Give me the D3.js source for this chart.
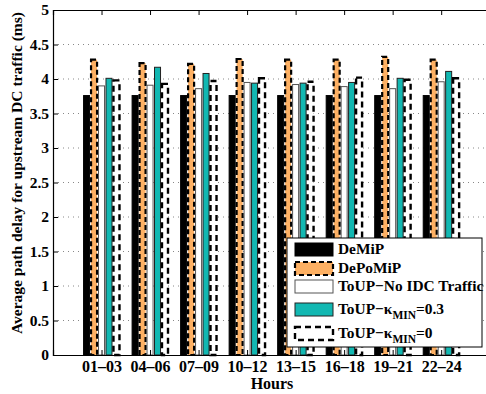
<!DOCTYPE html>
<html>
<head>
<meta charset="utf-8">
<script src="https://cdn.jsdelivr.net/npm/d3@7"></script>
<style>
body { margin: 0; background: #fff; }
text { font-family: "Liberation Serif", "Times New Roman", serif; font-weight: bold; }
</style>
</head>
<body>
<svg id="chart" width="486" height="394"></svg>
<script>
// data
const hours = ['01\u201303', '04\u201306', '07\u201309', '10\u201312', '13\u201315', '16\u201318', '19\u201321', '22\u201324'];
const demip = [3.76, 3.76, 3.76, 3.76, 3.76, 3.76, 3.76, 3.76];
const depomip = [4.28, 4.23, 4.22, 4.29, 4.28, 4.28, 4.32, 4.28];
const toupNoIdc = [3.90, 3.91, 3.86, 3.95, 3.92, 3.89, 3.86, 3.96];
const toupK03 = [4.01, 4.17, 4.08, 3.94, 3.94, 3.95, 4.01, 4.11];
const toupK0 = [3.98, 3.93, 3.97, 4.01, 3.96, 4.02, 3.99, 4.01];
const yTicks = [0, 0.5, 1, 1.5, 2, 2.5, 3, 3.5, 4, 4.5, 5];

const series = [
  {name: 'DeMiP', values: demip, fill: '#000', stroke: '#000', sw: 1, dash: null},
  {name: 'DePoMiP', values: depomip, fill: '#fdb063', stroke: '#000', sw: 2.2, dash: '5,3'},
  {name: 'ToUP\u2212No IDC Traffic', values: toupNoIdc, fill: '#fff', stroke: '#555', sw: 1, dash: null},
  {name: 'ToUP\u2212\u03ba', sub: 'MIN', tail: '=0.3', values: toupK03, fill: '#12b8b2', stroke: '#222', sw: 1, dash: null},
  {name: 'ToUP\u2212\u03ba', sub: 'MIN', tail: '=0', values: toupK0, fill: '#fff', stroke: '#000', sw: 2.4, dash: '6,4'}
];

const svg = d3.select('#chart');
const margin = {top: 10, left: 53, bottom: 39};
const plotRight = 489.7;  // right frame falls just outside the picture
const innerH = 394 - margin.top - margin.bottom;

const x = d3.scaleLinear().domain([0, 9]).range([margin.left, plotRight]);
const y = d3.scaleLinear().domain([0, 5]).range([margin.top + innerH, margin.top]);

// grid
svg.append('g').selectAll('line').data(yTicks.slice(1, -1)).enter().append('line')
  .attr('x1', margin.left).attr('x2', plotRight)
  .attr('y1', d => y(d)).attr('y2', d => y(d))
  .attr('stroke', '#888').attr('stroke-width', 1).attr('stroke-dasharray', '1,4');

// bars
const pitch = 0.154, bw = 0.124;
series.forEach((s, j) => {
  svg.append('g').selectAll('rect').data(s.values).enter().append('rect')
    .attr('x', (d, i) => x(i + 1 + (j - 2) * pitch - bw / 2))
    .attr('width', x(bw) - x(0))
    .attr('y', d => y(d))
    .attr('height', d => y(0) - y(d))
    .attr('fill', s.fill)
    .attr('stroke', s.stroke)
    .attr('stroke-width', s.sw)
    .attr('stroke-dasharray', s.dash);
});

// axes
const xAxis = d3.axisBottom(x).tickValues(d3.range(1, 9)).tickFormat((d, i) => hours[i]).tickSize(-5).tickPadding(9);
const xg = svg.append('g').attr('transform', `translate(0,${y(0)})`).call(xAxis);
xg.selectAll('text').attr('font-size', 16).attr('fill', '#000').attr('dy', '0.5em');
const xTop = d3.axisTop(x).tickValues(d3.range(1, 9)).tickFormat('').tickSize(-5);
svg.append('g').attr('transform', `translate(0,${y(5)})`).call(xTop);

const yAxis = d3.axisLeft(y).tickValues(yTicks).tickFormat(d3.format('')).tickSize(-5).tickPadding(4);
const yg = svg.append('g').attr('transform', `translate(${margin.left},0)`).call(yAxis);
yg.selectAll('text').attr('font-size', 15.5).attr('fill', '#000');
svg.selectAll('.domain').attr('stroke', '#000').attr('stroke-width', 1.2);
svg.selectAll('.tick line').attr('stroke', '#000');

svg.append('text')
  .attr('x', 272).attr('y', 389)
  .attr('text-anchor', 'middle').attr('font-size', 16)
  .text('Hours');

svg.append('text')
  .attr('transform', 'translate(22,173) rotate(-90)')
  .attr('text-anchor', 'middle').attr('font-size', 15.5)
  .attr('textLength', 322).attr('lengthAdjust', 'spacing')
  .text('Average path delay for upstream DC traffic (ms)');

// legend
const lg = svg.append('g').attr('transform', 'translate(287,238)');
lg.append('rect').attr('width', 195).attr('height', 109)
  .attr('fill', '#fff').attr('stroke', '#000').attr('stroke-width', 1);
const rowY = [11, 30, 48, 71, 95];
series.forEach((s, j) => {
  lg.append('rect')
    .attr('x', 8).attr('y', rowY[j] - 6).attr('width', 38).attr('height', 13)
    .attr('fill', s.fill).attr('stroke', s.stroke).attr('stroke-width', s.sw)
    .attr('stroke-dasharray', s.dash);
  const t = lg.append('text').attr('x', 51).attr('y', rowY[j] + 5).attr('font-size', 15.4);
  t.append('tspan').text(s.name);
  if (s.sub) {
    t.append('tspan').attr('font-size', 11.5).attr('dy', 5).text(s.sub);
    t.append('tspan').attr('dy', -5).text(s.tail);
  }
});
</script>
</body>
</html>
